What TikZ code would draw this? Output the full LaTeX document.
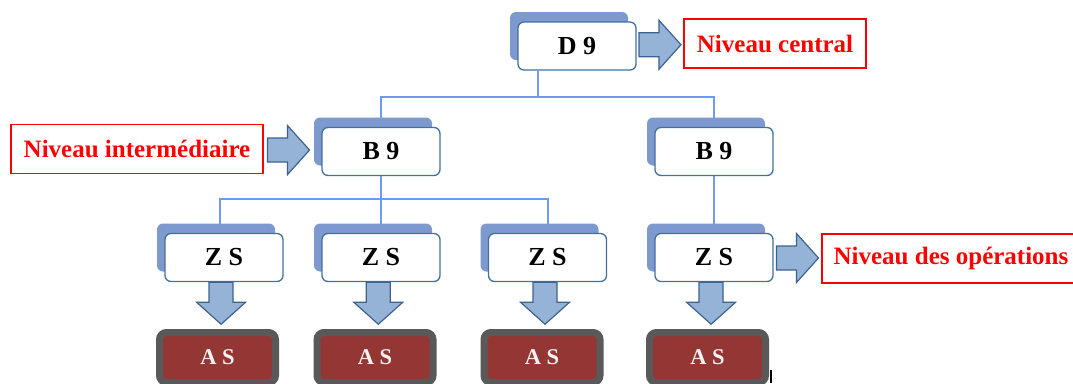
\documentclass[tikz,border=0pt]{standalone}
\usepackage{fontspec}
\setmainfont{Liberation Serif}
\usetikzlibrary{shadows,calc,backgrounds}

\definecolor{boxedge}{RGB}{65,113,156}
\definecolor{backblue}{RGB}{125,153,206}
\definecolor{linkblue}{RGB}{108,155,240}
\definecolor{arrowfill}{RGB}{149,179,215}
\definecolor{arrowedge}{RGB}{62,98,143}
\definecolor{asred}{RGB}{148,54,52}
\definecolor{asedge}{RGB}{89,89,89}
\definecolor{astext}{RGB}{242,242,242}

\tikzset{
  orgbox/.style={draw=boxedge, line width=1.3pt, fill=white, rounded corners=6pt,
    minimum width=118pt, minimum height=48pt, inner sep=0pt,
    font=\fontsize{26}{30}\selectfont\bfseries,
    general shadow={fill=backblue, shadow xshift=-8pt, shadow yshift=10pt}},
  tierlabel/.style={draw=red, line width=1.5pt, fill=white, minimum height=49pt,
    inner sep=0pt, text=red, font=\fontsize{25}{30}\selectfont\bfseries},
  sitebox/.style={draw=asedge, line width=7pt, fill=asred, rounded corners=7pt,
    minimum width=116pt, minimum height=50pt, inner sep=0pt, text=astext,
    font=\fontsize{22.5}{26}\selectfont\bfseries},
  link/.style={draw=linkblue, line width=2pt},
  bigarrow/.pic={
    \draw[draw=arrowedge, fill=arrowfill, line width=1.2pt, line join=miter]
      (-21,-12) -- (-1,-12) -- (-1,-24.5) -- (21,0) -- (-1,24.5) -- (-1,12) -- (-21,12) -- cycle;}
}

\begin{document}
\begin{tikzpicture}[x=1pt, y=-1pt]
\useasboundingbox (0,0) rectangle (1073,383);

% hierarchy boxes
\node[orgbox] (D9)  at (577,46)    {D 9};
\node[orgbox] (B9L) at (381,151.5) {B 9};
\node[orgbox] (B9R) at (714,151.5) {B 9};
\node[orgbox] (ZS1) at (224,257.5) {Z S};
\node[orgbox] (ZS2) at (381,257.5) {Z S};
\node[orgbox] (ZS3) at (547.5,257.5) {Z S};
\node[orgbox] (ZS4) at (714,257.5) {Z S};

% field units
\node[sitebox] (AS1) at (217.5,357.5) {A S};
\node[sitebox] (AS2) at (375,357.5)   {A S};
\node[sitebox] (AS3) at (542,357.5)   {A S};
\node[sitebox] (AS4) at (707.5,357.5) {A S};

% level captions
\node[tierlabel, minimum width=182pt] (NC) at (775,43.5) {Niveau central};
\node[tierlabel, minimum width=252pt] (NI) at (137,149) {Niveau intermédiaire};
\node[tierlabel, minimum width=258pt] (NO) at (951,258.5) {Niveau des opérations};

% tree connectors
\begin{scope}[on background layer]
  \coordinate (hub) at (538,97);
  \draw[link] (D9.south -| hub) -- (hub);
  \draw[link] (B9L.north) |- (hub) -| (B9R.north);
  \coordinate (hub2) at ($(B9L.south)+(0,23)$);
  \draw[link] (B9L.south) -- (hub2);
  \draw[link] ([xshift=-4pt]ZS1.north) |- (hub2) -| (ZS3.north);
  \draw[link] (hub2) -- (ZS2.north);
  \draw[link] (B9R.south) -- (ZS4.north);
\end{scope}

% block arrows
\pic at ($(D9.east)!0.5!(NC.west)$) {bigarrow};
\pic at ($(NI.east)!0.43!(B9L.west)$) {bigarrow};
\pic at ($(ZS4.east)!0.5!(NO.west)$) {bigarrow};
\pic[rotate=-90] at ($(ZS1.south)!0.45!(AS1.north)$) {bigarrow};
\pic[rotate=-90] at ($(ZS2.south)!0.45!(AS2.north)$) {bigarrow};
\pic[rotate=-90] at ($(ZS3.south)!0.45!(AS3.north)$) {bigarrow};
\pic[rotate=-90] at ($(ZS4.south)!0.45!(AS4.north)$) {bigarrow};

% small vertical mark beside the last unit
\draw[line width=1.5pt] (771,370) -- (771,383);
\end{tikzpicture}
\end{document}
